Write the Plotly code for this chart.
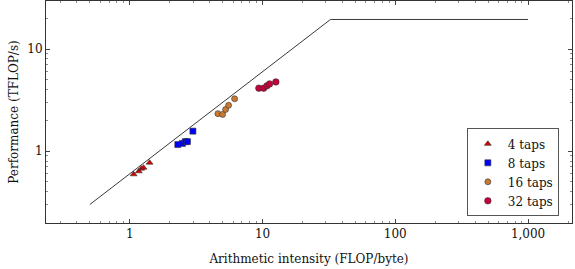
import plotly.graph_objects as go

# Roofline
roof_x = [0.5, 32.5, 1000]
roof_y = [0.3, 19.5, 19.5]

taps4_x = [1.07, 1.17, 1.22, 1.27, 1.41]
taps4_y = [0.593, 0.634, 0.674, 0.689, 0.771]
taps8_x = [2.30, 2.49, 2.62, 2.72, 2.99]
taps8_y = [1.16, 1.19, 1.24, 1.24, 1.57]
taps16_x = [4.61, 5.00, 5.27, 5.55, 6.16]
taps16_y = [2.33, 2.29, 2.56, 2.81, 3.26]
taps32_x = [9.38, 10.2, 10.8, 11.3, 12.6]
taps32_y = [4.14, 4.14, 4.36, 4.56, 4.77]

x_tickvals = [1, 10, 100, 1000]
x_ticktext = ["1", "10", "100", "1,000"]
y_tickvals = [1, 10]
y_ticktext = ["1", "10"]

FONT = "DejaVu Serif"

fig = go.Figure()
fig.add_trace(go.Scatter(x=roof_x, y=roof_y, mode="lines",
                         line=dict(color="#222222", width=0.9),
                         showlegend=False, hoverinfo="skip"))

series = [
    ("4 taps", taps4_x, taps4_y, "triangle-up", "#d40000", 6),
    ("8 taps", taps8_x, taps8_y, "square", "#0000ff", 6),
    ("16 taps", taps16_x, taps16_y, "circle", "#c87a32", 6),
    ("32 taps", taps32_x, taps32_y, "circle", "#c8003c", 6.5),
]
for name, xs, ys, sym, col, sz in series:
    fig.add_trace(go.Scatter(x=xs, y=ys, mode="markers", name=name,
                             marker=dict(symbol=sym, color=col, size=sz,
                                         line=dict(color="#333333", width=0.6))))

def minor_vals(lo, hi):
    v = []
    for k in range(lo, hi):
        for m in range(2, 10):
            v.append(m * 10 ** k)
    return v

fig.update_xaxes(type="log", range=[-0.631, 3.331], automargin=False,
                 tickvals=x_tickvals, ticktext=x_ticktext,
                 ticks="inside", ticklen=4, tickcolor="#444",
                 showline=True, linecolor="#333", linewidth=1, mirror="allticks",
                 showgrid=False, zeroline=False,
                 minor=dict(tickvals=minor_vals(-1, 4), ticks="inside", ticklen=2,
                            tickcolor="#888", showgrid=False),
                 tickfont=dict(family=FONT, size=12, color="#111"),
                 title=dict(text="Arithmetic intensity (FLOP/byte)",
                            font=dict(family=FONT, size=12, color="#111"), standoff=14))
fig.update_yaxes(type="log", range=[-0.704, 1.471], automargin=False,
                 tickvals=y_tickvals, ticktext=y_ticktext,
                 ticks="inside", ticklen=4, tickcolor="#444",
                 showline=True, linecolor="#333", linewidth=1, mirror="allticks",
                 showgrid=False, zeroline=False,
                 minor=dict(tickvals=minor_vals(-1, 2), ticks="inside", ticklen=2,
                            tickcolor="#888", showgrid=False),
                 tickfont=dict(family=FONT, size=12, color="#111"),
                 title=dict(text="Performance (TFLOP/s)",
                            font=dict(family=FONT, size=12, color="#111"), standoff=6))

fig.update_layout(
    width=575, height=269,
    margin=dict(l=46, r=3, t=1, b=46),
    paper_bgcolor="white", plot_bgcolor="white",
    font=dict(family=FONT, size=12, color="#111"),
    legend=dict(x=0.975, y=0.03, xanchor="right", yanchor="bottom",
                bordercolor="#555", borderwidth=1, bgcolor="white",
                font=dict(family=FONT, size=12, color="#111"),
                itemwidth=30, tracegroupgap=0),
)

fig.write_html("out.html", config={"displayModeBar": False},
               post_script="document.body.style.margin='0';")
